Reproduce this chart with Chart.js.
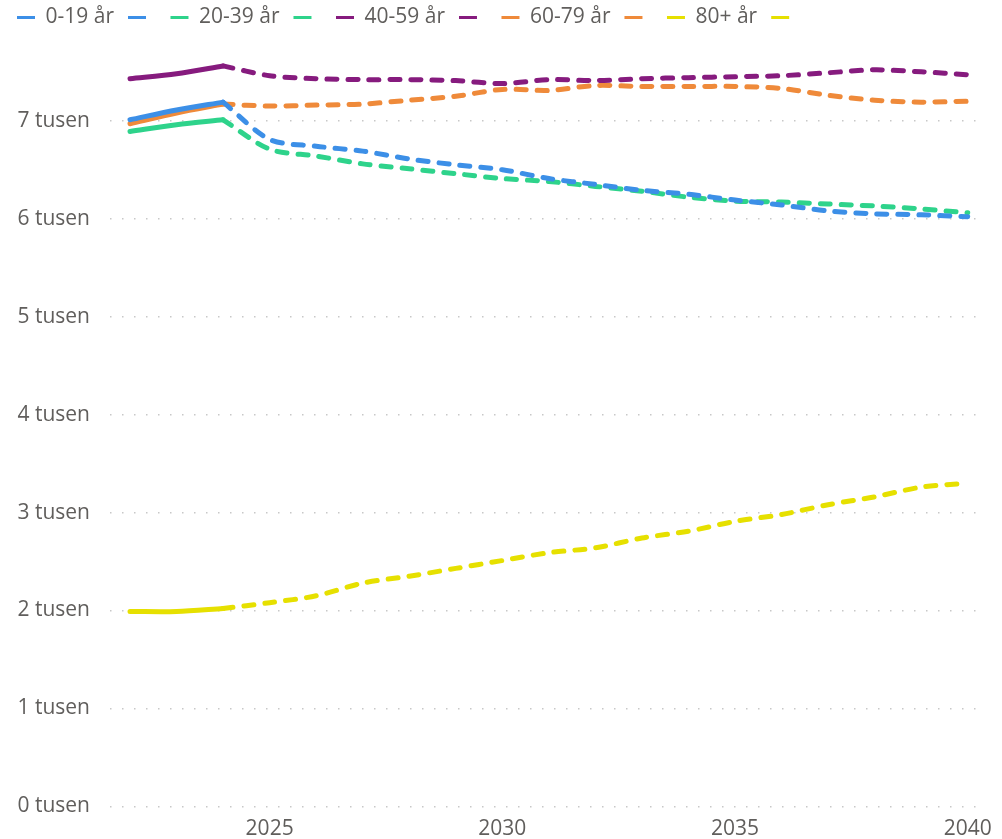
<!DOCTYPE html>
<html>
<head>
<meta charset="utf-8">
<script src="https://cdn.jsdelivr.net/npm/chart.js@4/dist/chart.umd.min.js"></script>
<style>
  body { margin: 0; background: #fff; }
  #wrap { width: 1002px; height: 839px; position: relative; }
</style>
</head>
<body>
<div id="wrap"><canvas id="grafico-befolkning"></canvas></div>
<script>
// år och åldersgrupper
const years = [2022, 2023, 2024, 2025, 2026, 2027, 2028, 2029, 2030, 2031,
               2032, 2033, 2034, 2035, 2036, 2037, 2038, 2039, 2040];
const lastHistYear = 2024;
const groupLabels = ["0-19 år", "20-39 år", "40-59 år", "60-79 år", "80+ år"];
const groupColors = ["#3C8FE7", "#2ED38B", "#861B7E", "#EF8A3A", "#E6E000"];

// värden i tusental
const age0_19  = [7.01, 7.11, 7.19, 6.81, 6.74, 6.69, 6.61, 6.55, 6.50, 6.41,
                  6.35, 6.29, 6.25, 6.19, 6.14, 6.08, 6.05, 6.04, 6.02];
const age20_39 = [6.89, 6.96, 7.01, 6.71, 6.64, 6.56, 6.51, 6.46, 6.41, 6.38,
                  6.33, 6.28, 6.22, 6.18, 6.17, 6.15, 6.13, 6.10, 6.06];
const age40_59 = [7.43, 7.48, 7.56, 7.46, 7.43, 7.42, 7.42, 7.41, 7.38, 7.42,
                  7.41, 7.43, 7.44, 7.45, 7.46, 7.49, 7.52, 7.50, 7.47];
const age60_79 = [6.97, 7.08, 7.17, 7.15, 7.16, 7.17, 7.21, 7.25, 7.32, 7.31,
                  7.36, 7.35, 7.35, 7.35, 7.33, 7.26, 7.21, 7.19, 7.20];
const age80    = [1.99, 1.99, 2.02, 2.08, 2.15, 2.28, 2.35, 2.43, 2.51, 2.59,
                  2.64, 2.74, 2.81, 2.91, 2.98, 3.08, 3.16, 3.26, 3.30];
const groupValues = [age0_19, age20_39, age40_59, age60_79, age80];

const yTicks = [0, 1, 2, 3, 4, 5, 6, 7];
const xTicks = [2025, 2030, 2035, 2040];

const textColor = "#605E5C";
const fontFamily = "'Segoe UI', 'Open Sans', 'Noto Sans', sans-serif";

function points(values, fromYear, toYear) {
    const out = [];
    years.forEach((yr, i) => {
        if (yr >= fromYear && yr <= toYear) out.push({ x: yr, y: values[i] });
    });
    return out;
}

const datasets = [];
groupLabels.forEach((label, g) => {
    // utfall (heldragen)
    datasets.push({
        label: label,
        data: points(groupValues[g], years[0], lastHistYear),
        borderColor: groupColors[g],
        borderWidth: 5,
        pointRadius: 0,
        tension: 0.3,
        borderCapStyle: "round"
    });
    // prognos (streckad)
    datasets.push({
        label: "",
        data: points(groupValues[g], lastHistYear, years[years.length - 1]),
        borderColor: groupColors[g],
        borderWidth: 5,
        borderDash: [10, 11],
        borderCapStyle: "round",
        pointRadius: 0,
        tension: 0.3
    });
});

// lite extra luft under legenden och flytta den mot hörnet
const legendTweak = {
    id: "legendTweak",
    beforeInit(chart) {
        const fit = chart.legend.fit;
        chart.legend.fit = function () {
            fit.bind(chart.legend)();
            this.height += 17;
        };
    },
    afterLayout(chart) {
        chart.legend.left -= 11;
        chart.legend.top -= 7;
    }
};

const ctx = document.getElementById("grafico-befolkning").getContext("2d");
new Chart(ctx, {
    type: "line",
    data: { datasets: datasets },
    plugins: [legendTweak],
    options: {
        responsive: true,
        maintainAspectRatio: false,
        animation: false,
        layout: { padding: { left: 14, right: 14, top: 0, bottom: 0 } },
        plugins: {
            tooltip: { enabled: false },
            legend: {
                position: "top",
                align: "start",
                labels: {
                    color: textColor,
                    font: { family: fontFamily, size: 21 },
                    boxWidth: 18,
                    boxHeight: 3,
                    padding: 14,
                    generateLabels(chart) {
                        return chart.data.datasets.map((ds, i) => ({
                            text: ds.label,
                            fillStyle: ds.borderColor,
                            strokeStyle: ds.borderColor,
                            lineWidth: 0,
                            hidden: false,
                            datasetIndex: i,
                            fontColor: textColor
                        }));
                    }
                }
            }
        },
        scales: {
            x: {
                type: "linear",
                min: 2021.57,
                max: 2040.34,
                afterBuildTicks(scale) {
                    scale.ticks = xTicks.map(v => ({ value: v }));
                },
                afterFit(scale) {
                    scale.height = 32;
                },
                grid: { display: false, drawTicks: false },
                border: { display: false },
                ticks: {
                    color: textColor,
                    font: { family: fontFamily, size: 21 },
                    padding: 10,
                    maxRotation: 0,
                    callback: v => String(v)
                }
            },
            y: {
                min: 0,
                max: 7.6,
                afterBuildTicks(scale) {
                    scale.ticks = yTicks.map(v => ({ value: v }));
                },
                afterFit(scale) {
                    scale.width = 96;
                },
                grid: {
                    color: "#C8C8C8",
                    lineWidth: 1.5,
                    drawTicks: false
                },
                border: { display: false, dash: [1.5, 10.5] },
                ticks: {
                    color: textColor,
                    font: { family: fontFamily, size: 21 },
                    padding: 20,
                    callback: v => v + " tusen"
                }
            }
        }
    }
});
</script>
</body>
</html>
